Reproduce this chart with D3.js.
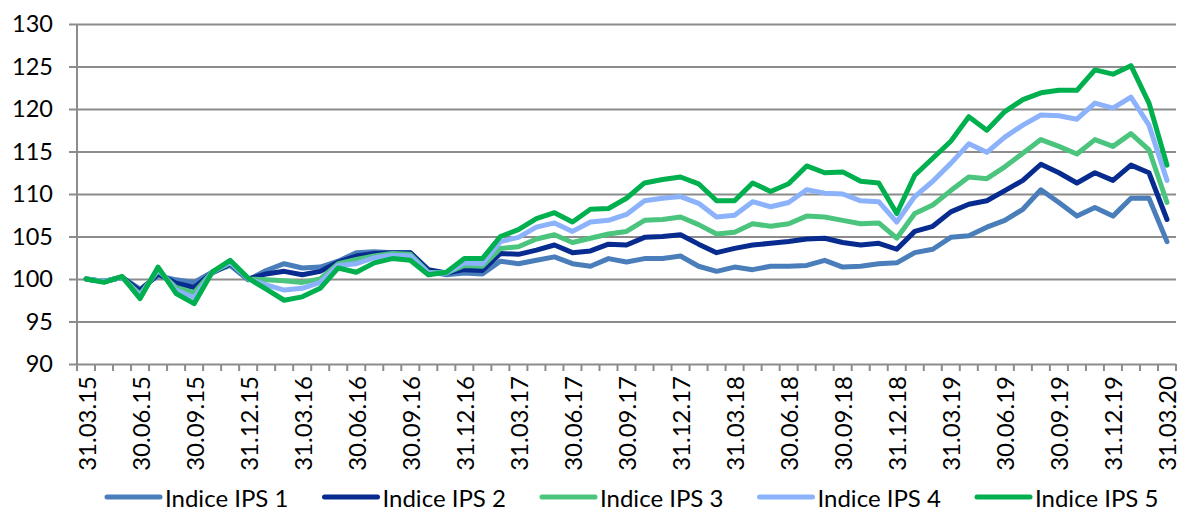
<!DOCTYPE html>
<html>
<head>
<meta charset="utf-8">
<script src="https://cdn.jsdelivr.net/npm/d3@7"></script>
<style>
  html, body { margin: 0; padding: 0; background: #ffffff; }
  svg { display: block; font-family: Lato, "Noto Sans", sans-serif; }
</style>
</head>
<body>
<svg id="chart" width="1184" height="511"></svg>
<script>
// Month-end dates (categories)
const dates = [
  "31.03.15","30.04.15","31.05.15","30.06.15","31.07.15","31.08.15","30.09.15","31.10.15","30.11.15","31.12.15",
  "31.01.16","29.02.16","31.03.16","30.04.16","31.05.16","30.06.16","31.07.16","31.08.16","30.09.16","31.10.16","30.11.16","31.12.16",
  "31.01.17","28.02.17","31.03.17","30.04.17","31.05.17","30.06.17","31.07.17","31.08.17","30.09.17","31.10.17","30.11.17","31.12.17",
  "31.01.18","28.02.18","31.03.18","30.04.18","31.05.18","30.06.18","31.07.18","31.08.18","30.09.18","31.10.18","30.11.18","31.12.18",
  "31.01.19","28.02.19","31.03.19","30.04.19","31.05.19","30.06.19","31.07.19","31.08.19","30.09.19","31.10.19","30.11.19","31.12.19",
  "31.01.20","29.02.20","31.03.20"
];

const seriesNames = ["Indice IPS 1", "Indice IPS 2", "Indice IPS 3", "Indice IPS 4", "Indice IPS 5"];

const ips1 = [100,99.7,100.2,98.8,100.4,99.9,99.6,100.8,101.6,99.9,
  101.0,101.8,101.3,101.4,102.1,103.1,103.2,103.1,103.1,100.9,100.5,100.7,
  100.6,102.1,101.8,102.2,102.6,101.8,101.5,102.4,102.0,102.4,102.4,102.7,
  101.5,100.9,101.4,101.1,101.5,101.5,101.6,102.2,101.4,101.5,101.8,101.9,
  103.1,103.5,104.9,105.1,106.1,106.9,108.2,110.5,109.0,107.4,108.4,107.4,
  109.5,109.5,104.4];

const ips2 = [100,99.7,100.2,98.6,100.6,99.5,99.0,100.7,101.8,100.0,
  100.6,100.9,100.5,100.9,102.0,102.7,103.0,103.1,103.1,101.1,100.7,101.1,
  101.0,103.0,102.9,103.4,104.0,103.1,103.3,104.1,104.0,104.9,105.0,105.2,
  104.1,103.1,103.6,104.0,104.2,104.4,104.7,104.8,104.3,104.0,104.2,103.5,
  105.6,106.2,107.9,108.8,109.2,110.4,111.6,113.5,112.5,111.3,112.5,111.6,
  113.4,112.5,107.0];

const ips3 = [100,99.7,100.2,98.2,101.0,99.0,98.4,100.8,101.9,100.0,
  99.9,99.8,99.6,100.0,101.8,102.3,102.7,103.0,102.9,100.8,100.7,101.6,
  101.5,103.6,103.8,104.7,105.2,104.3,104.8,105.3,105.6,106.9,107.0,107.3,
  106.4,105.3,105.5,106.5,106.2,106.5,107.4,107.3,106.9,106.5,106.6,104.8,
  107.7,108.7,110.4,112.0,111.8,113.2,114.8,116.4,115.6,114.7,116.4,115.6,
  117.1,115.2,109.0];

const ips4 = [100,99.7,100.2,98.0,101.2,98.7,97.8,100.8,102.0,100.0,
  99.3,98.7,98.9,99.6,101.6,101.8,102.5,102.8,102.7,100.7,100.7,101.9,
  101.8,104.4,104.9,106.1,106.6,105.6,106.7,106.9,107.6,109.2,109.5,109.7,
  108.9,107.3,107.5,109.1,108.5,109.0,110.5,110.1,110.0,109.2,109.1,106.7,
  109.7,111.5,113.6,115.9,114.9,116.7,118.1,119.3,119.2,118.8,120.7,120.1,
  121.4,118.1,111.6];

const ips5 = [100,99.6,100.3,97.7,101.4,98.3,97.1,100.8,102.2,100.1,
  98.8,97.5,97.9,98.9,101.3,100.8,101.9,102.4,102.2,100.5,100.8,102.4,
  102.4,105.0,105.8,107.1,107.8,106.7,108.2,108.3,109.5,111.3,111.7,112.0,
  111.2,109.2,109.2,111.3,110.3,111.2,113.3,112.5,112.6,111.5,111.3,107.7,
  112.2,114.2,116.2,119.1,117.5,119.7,121.1,121.9,122.2,122.2,124.6,124.1,
  125.1,120.7,113.4];

const seriesValues = [ips1, ips2, ips3, ips4, ips5];
const seriesColors = ["#4A7EBB", "#072B8E", "#4BC47D", "#8CB2FB", "#00B04F"];

const yTicks = [90, 95, 100, 105, 110, 115, 120, 125, 130];

const svg = d3.select("#chart");
const plot = { left: 77, right: 1176, top: 24, bottom: 364 };
const gridColor = "#8C8C8C";
const fontFamily = "Lato, sans-serif";

const x = d3.scaleBand().domain(dates).range([plot.left, plot.right]).padding(0);
const y = d3.scaleLinear().domain([90, 130]).range([plot.bottom, plot.top]);
const cx = d => x(d) + x.bandwidth() / 2;

// Horizontal gridlines with short outer ticks on the value axis
const yAxis = d3.axisLeft(y).tickValues(yTicks).tickSize(plot.right - plot.left + 8).tickSizeOuter(0).tickPadding(16);
const gy = svg.append("g").attr("transform", `translate(${plot.right},0)`).call(yAxis);
gy.select(".domain").remove();
gy.selectAll(".tick line").attr("stroke", gridColor).attr("stroke-width", 2);
gy.selectAll(".tick text")
  .attr("fill", "#000").attr("font-size", 23.5).attr("font-family", fontFamily);

// Vertical axis line
svg.append("line")
  .attr("x1", plot.left).attr("x2", plot.left)
  .attr("y1", plot.top).attr("y2", plot.bottom + 7)
  .attr("stroke", gridColor).attr("stroke-width", 2);

// Category tick marks at band boundaries
const boundaries = dates.map(d => x(d)).concat([plot.right]);
svg.append("g").selectAll("line").data(boundaries).join("line")
  .attr("x1", d => d).attr("x2", d => d)
  .attr("y1", plot.bottom).attr("y2", plot.bottom + 7)
  .attr("stroke", gridColor).attr("stroke-width", 2);

// Quarterly date labels, rotated
const xAxis = d3.axisBottom(x)
  .tickValues(dates.filter((d, i) => i % 3 === 0))
  .tickSize(0).tickPadding(0);
const gx = svg.append("g").attr("transform", `translate(0,${plot.bottom})`).call(xAxis);
gx.select(".domain").remove();
gx.selectAll(".tick text")
  .attr("fill", "#000")
  .attr("font-size", 24)
  .attr("font-family", fontFamily)
  .attr("text-anchor", "end")
  .attr("dominant-baseline", "central")
  .attr("transform", "translate(0,12) rotate(-90)")
  .attr("x", 0).attr("y", 0).attr("dy", null);

// Series lines
const line = d3.line()
  .x((v, i) => cx(dates[i]))
  .y(v => y(v));

svg.append("g").selectAll("path").data(seriesValues).join("path")
  .attr("d", d => line(d))
  .attr("fill", "none")
  .attr("stroke", (d, i) => seriesColors[i])
  .attr("stroke-width", 5)
  .attr("stroke-linejoin", "round")
  .attr("stroke-linecap", "round");

// Legend
const legend = svg.append("g").attr("transform", "translate(107,497)");
const item = legend.selectAll("g").data(seriesNames).join("g")
  .attr("transform", (d, i) => `translate(${i * 217.5},0)`);
item.append("line")
  .attr("x1", 0).attr("x2", 53).attr("y1", 0).attr("y2", 0)
  .attr("stroke", (d, i) => seriesColors[i])
  .attr("stroke-width", 5)
  .attr("stroke-linecap", "round");
item.append("text")
  .attr("x", 58).attr("y", 0)
  .attr("dominant-baseline", "central")
  .attr("font-size", 24)
  .attr("font-family", fontFamily)
  .attr("fill", "#000")
  .text(d => d);
</script>
</body>
</html>
